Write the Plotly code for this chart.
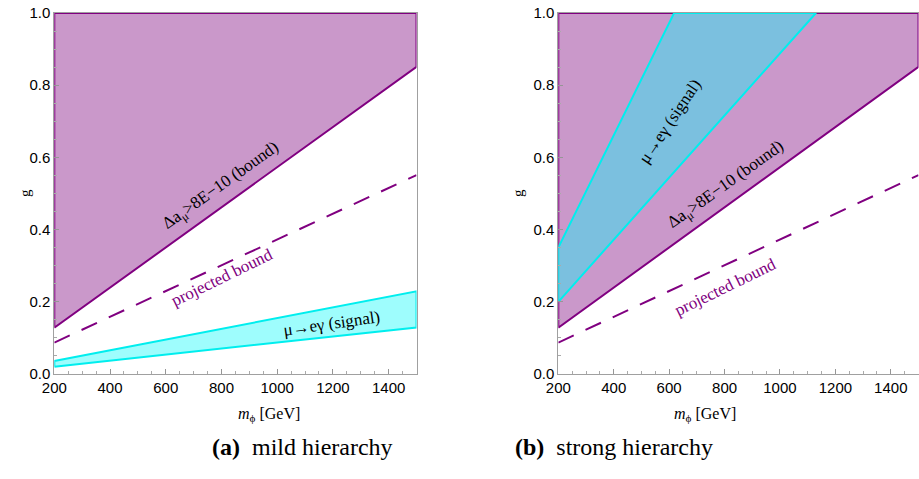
import plotly.graph_objects as go

# ---- data ----
m_phi_ends = [200, 1500]
bound_g = [0.128, 0.851]          # Δa_μ > 8E-10 bound (same in both panels)
projected_g = [0.087, 0.551]      # projected bound (dashed)
g_max = 1.0

# (a) mild hierarchy: μ→eγ signal band
signal_mild_lo = [0.020, 0.129]
signal_mild_hi = [0.036, 0.229]

# (b) strong hierarchy: μ→eγ signal band edges (start at m=200, end where g=1)
signal_strong_upper_x = [200, 618]
signal_strong_upper_g = [0.35, 1.0]
signal_strong_lower_x = [200, 1130]
signal_strong_lower_g = [0.20, 1.0]

x_ticks = [200, 400, 600, 800, 1000, 1200, 1400]
y_ticks = [0.0, 0.2, 0.4, 0.6, 0.8, 1.0]

PURPLE_FILL = "rgb(202,152,202)"
PURPLE_LINE = "rgb(128,0,128)"
CYAN_FILL = "rgb(158,253,253)"
CYAN_LINE = "rgb(0,238,238)"
OVERLAP_FILL = "rgb(123,192,223)"
SERIF = "Liberation Serif"
SANS = "Liberation Sans"

fig = go.Figure()

def bound_polygon(xa, ya):
    x0, x1 = m_phi_ends
    return go.Scatter(x=[x0, x1, x1, x0, x0], y=[bound_g[0], bound_g[1], g_max, g_max, bound_g[0]],
                      mode="lines", fill="toself", fillcolor=PURPLE_FILL,
                      line=dict(color=PURPLE_LINE, width=2), xaxis=xa, yaxis=ya,
                      hoverinfo="skip", showlegend=False)

def projected_line(xa, ya):
    return go.Scatter(x=m_phi_ends, y=projected_g, mode="lines",
                      line=dict(color=PURPLE_LINE, width=2, dash="17px,13px"),
                      xaxis=xa, yaxis=ya, hoverinfo="skip", showlegend=False)

# panel (a)
fig.add_trace(bound_polygon("x", "y"))
fig.add_trace(projected_line("x", "y"))
fig.add_trace(go.Scatter(
    x=m_phi_ends + m_phi_ends[::-1] + [m_phi_ends[0]],
    y=signal_mild_lo + signal_mild_hi[::-1] + [signal_mild_lo[0]],
    mode="lines", fill="toself", fillcolor=CYAN_FILL,
    line=dict(color=CYAN_LINE, width=2), xaxis="x", yaxis="y",
    hoverinfo="skip", showlegend=False))

# panel (b)
fig.add_trace(bound_polygon("x2", "y2"))
fig.add_trace(projected_line("x2", "y2"))
fig.add_trace(go.Scatter(
    x=signal_strong_lower_x + signal_strong_upper_x[::-1] + [signal_strong_lower_x[0]],
    y=signal_strong_lower_g + signal_strong_upper_g[::-1] + [signal_strong_lower_g[0]],
    mode="lines", fill="toself", fillcolor=OVERLAP_FILL,
    line=dict(color=CYAN_LINE, width=2), xaxis="x2", yaxis="y2",
    hoverinfo="skip", showlegend=False))

W, H = 919, 479
def px_x(p):
    return p / W
def px_y(p):
    return 1 - p / H

axis_common = dict(showline=True, mirror=True, linecolor="rgb(160,160,160)", linewidth=1,
                   ticks="inside", ticklen=5, tickcolor="rgb(150,150,150)",
                   showgrid=False, zeroline=False, automargin=False,
                   tickfont=dict(family=SANS, size=15, color="black"))

xax = dict(axis_common, range=[200, 1500], tickvals=x_ticks,
           minor=dict(dtick=50, ticks="inside", ticklen=3, tickcolor="rgb(170,170,170)", showgrid=False))
yax = dict(axis_common, range=[0, 1], tickvals=y_ticks, tickformat=".1f",
           minor=dict(dtick=0.05, ticks="inside", ticklen=3, tickcolor="rgb(170,170,170)", showgrid=False))

fig.update_layout(
    width=W, height=H,
    margin=dict(l=0, r=0, t=0, b=0, autoexpand=False),
    paper_bgcolor="white", plot_bgcolor="white",
    xaxis=dict(xax, domain=[px_x(54.3), px_x(416.5)], anchor="y"),
    yaxis=dict(yax, domain=[px_y(374), px_y(13)], anchor="x"),
    xaxis2=dict(xax, domain=[px_x(558.3), px_x(918.5)], anchor="y2"),
    yaxis2=dict(yax, domain=[px_y(374), px_y(13)], anchor="x2"),
)

ann = []
def label(text, x, y, angle, color, xref, yref, size=17):
    ann.append(dict(text=text, x=x, y=y, xref=xref, yref=yref, textangle=angle,
                    showarrow=False, font=dict(family=SERIF, size=size, color=color)))

# panel (a) labels
label("Δa<sub>μ</sub>&gt;8E−10 (bound)", 800, 0.521, -35.5, "black", "x", "y")
label("projected bound", 802, 0.266, -26, PURPLE_LINE, "x", "y")
label("μ→eγ (signal)", 1194, 0.141, -8, "black", "x", "y")
# panel (b) labels
label("μ→eγ (signal)", 602, 0.70, -56, "black", "x2", "y2")
label("Δa<sub>μ</sub>&gt;8E−10 (bound)", 807, 0.524, -35.5, "black", "x2", "y2")
label("projected bound", 800, 0.241, -26, PURPLE_LINE, "x2", "y2")

# axis titles
for cx in (236, 738):
    ann.append(dict(text="<i>m</i><sub>ϕ</sub> [GeV]", x=px_x(cx), y=px_y(403), xref="paper", yref="paper",
                    yanchor="top", showarrow=False, font=dict(family=SERIF, size=16, color="black")))
for gx in (15, 518):
    ann.append(dict(text="g", x=px_x(gx), y=px_y(193), xref="paper", yref="paper", textangle=-90,
                    showarrow=False, font=dict(family=SERIF, size=15, color="black")))

# captions
ann.append(dict(text="<b>(a)</b>  mild hierarchy", x=px_x(210), y=px_y(462), xref="paper", yref="paper",
                showarrow=False, font=dict(family=SERIF, size=24, color="black")))
ann.append(dict(text="<b>(b)</b>  strong hierarchy", x=px_x(715), y=px_y(462), xref="paper", yref="paper",
                showarrow=False, font=dict(family=SERIF, size=24, color="black")))

fig.update_layout(annotations=ann)
fig.write_html("out.html")
